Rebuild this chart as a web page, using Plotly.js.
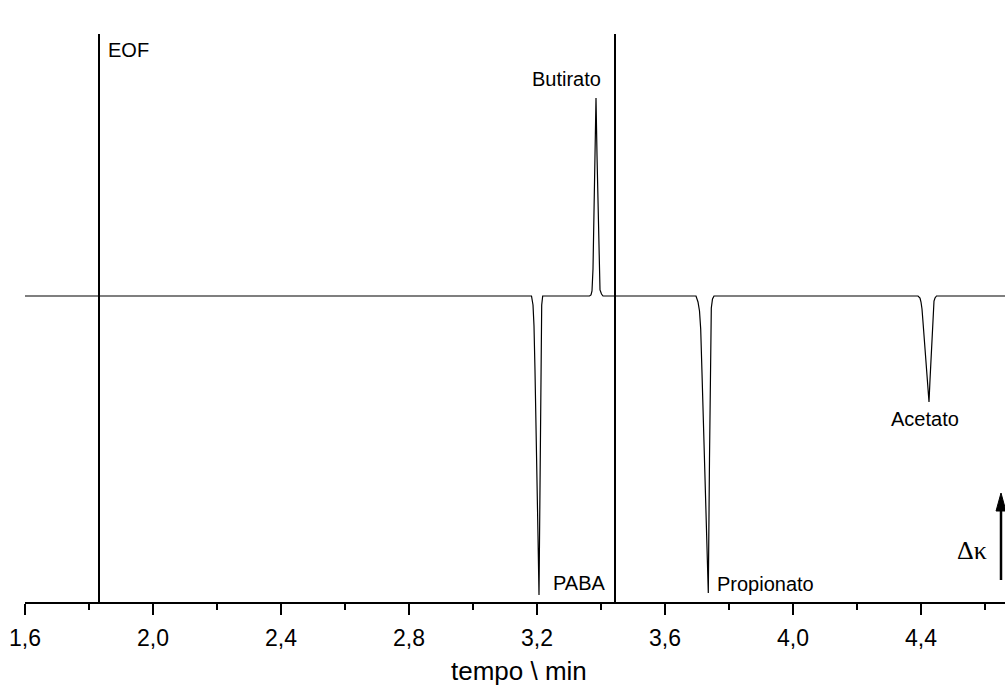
<!DOCTYPE html>
<html>
<head>
<meta charset="utf-8">
<script src="https://cdn.plot.ly/plotly-3.0.1.min.js"></script>
<style>html,body{margin:0;padding:0;background:#fff;}#chart{width:1005px;height:688px;}</style>
</head>
<body>
<div id="chart"></div>
<script>
// Electropherogram: time (min) vs conductivity signal (arbitrary units, baseline = 0)
var tempo = [
  1.6,
  3.18281, 3.1875, 3.19063, 3.19375, 3.19688, 3.2, 3.20313, 3.20625, 3.20844, 3.21031, 3.2125, 3.21469, 3.21781,
  3.36406, 3.36875, 3.37188, 3.375, 3.37813, 3.38125, 3.38438, 3.3875, 3.39063, 3.39375, 3.39688, 3.40156, 3.40625,
  3.69688, 3.70313, 3.70781, 3.71156, 3.71563, 3.72031, 3.725, 3.72969, 3.73531, 3.73906, 3.74125, 3.74281, 3.74469, 3.74844, 3.75313,
  4.39063, 4.39688, 4.4, 4.40313, 4.40625, 4.40938, 4.4125, 4.41563, 4.41875, 4.42188, 4.425, 4.42813, 4.43125, 4.43438, 4.4375, 4.44063, 4.44375, 4.44844,
  4.6625
];
var sinal = [
  0,
  0, -9, -30, -75, -120, -180, -240, -299, -210, -105, -30, -9, 0,
  0, 1, 5, 27, 83, 141, 198, 141, 83, 27, 6, 2, 0,
  0, -6, -15, -33, -77, -131, -181, -235, -297, -163, -89, -33, -12, -3, 0,
  0, -2, -6, -13, -26, -39, -53, -66, -80, -93, -106, -84, -61, -39, -16, -5, -2, 0,
  0
];
// Markers (vertical lines)
var marcadoresX = [1.83125, 3.44375];
// Labels
var rotulos = ["EOF", "Pico de sistema", "Butirato", "PABA", "Propionato", "Acetato"];
var rotuloX = [1.853, 3.434, 3.178, 3.2447, 3.7553, 4.300];
var rotuloY = [246, 274, 217, -286.5, -288, -123];
var xTicks = [1.6, 2.0, 2.4, 2.8, 3.2, 3.6, 4.0, 4.4];
var tituloX = "tempo \\ min";

var FONT = "Liberation Sans, Arial, sans-serif";

var trace = {
  x: tempo, y: sinal, type: "scatter", mode: "lines",
  line: {color: "#000", width: 1.2, shape: "linear"},
  hoverinfo: "skip", showlegend: false
};

var shapes = marcadoresX.map(function (xv) {
  return {type: "line", xref: "x", yref: "paper", x0: xv, x1: xv, y0: 0, y1: 1,
          line: {color: "#000", width: 2}};
});
// Δκ arrow (decoration)
shapes.push({type: "line", xref: "x", yref: "y", x0: 4.65, x1: 4.65, y0: -284, y1: -206,
             line: {color: "#000", width: 2.5}});
shapes.push({type: "path", xref: "x", yref: "y",
             path: "M4.65,-197 L4.6345,-215 L4.6655,-215 Z",
             fillcolor: "#000", line: {color: "#000", width: 1}});

var annotations = rotulos.map(function (t, i) {
  return {text: t, x: rotuloX[i], y: rotuloY[i], xref: "x", yref: "y",
          xanchor: "left", yanchor: "middle", showarrow: false,
          font: {family: FONT, size: 20, color: "#000"}};
});
annotations.push({text: "Δκ", x: 4.507, y: -254.5, xref: "x", yref: "y",
                  xanchor: "left", yanchor: "middle", showarrow: false,
                  font: {family: "Liberation Serif, Times New Roman, serif", size: 26, color: "#000"}});
// x-axis title (placed as annotation so it can sit at the very bottom like the original)
annotations.push({text: tituloX, x: 0.504, y: -0.1215, xref: "paper", yref: "paper",
                  xanchor: "center", yanchor: "middle", showarrow: false,
                  font: {family: FONT, size: 26, color: "#000"}});

var layout = {
  width: 1005, height: 688,
  margin: {l: 25, r: 0, t: 34, b: 86, pad: 0},
  paper_bgcolor: "#fff", plot_bgcolor: "#fff",
  separators: ",.",
  showlegend: false,
  font: {family: FONT, color: "#000"},
  xaxis: {
    range: [1.6, 4.6625], fixedrange: true,
    showgrid: false, zeroline: false,
    showline: true, linecolor: "#000", linewidth: 2,
    ticks: "outside", ticklen: 11, tickwidth: 2, tickcolor: "#000",
    tickvals: xTicks, tickformat: ".1f",
    tickfont: {family: FONT, size: 23, color: "#000"},
    ticklabelstandoff: 3,
    minor: {dtick: 0.2, tick0: 1.6, ticks: "outside", ticklen: 6, tickwidth: 2, tickcolor: "#000", showgrid: false}
  },
  yaxis: {range: [-306, 262], visible: false, fixedrange: true, showgrid: false, zeroline: false},
  shapes: shapes,
  annotations: annotations
};

Plotly.newPlot("chart", [trace], layout, {displayModeBar: false, staticPlot: true});
</script>
</body>
</html>
